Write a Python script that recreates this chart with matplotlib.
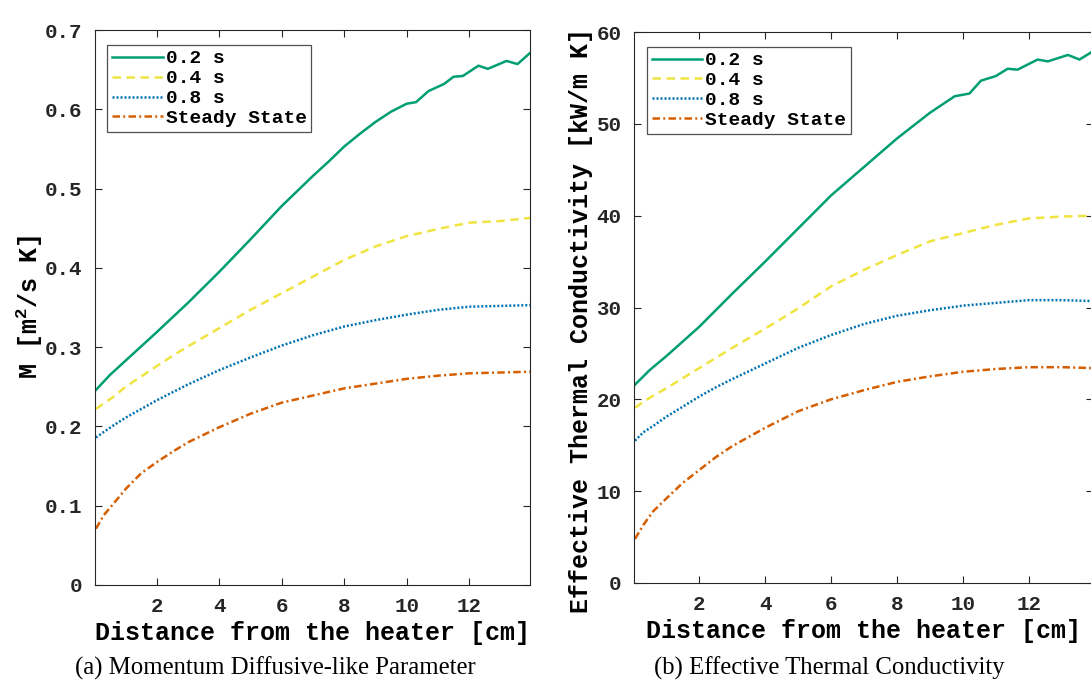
import matplotlib
matplotlib.use("Agg")
import matplotlib.pyplot as plt

# ===== DATA =====
labels = ["0.2 s", "0.4 s", "0.8 s", "Steady State"]
colors = ["#009E73", "#F0E442", "#0072B2", "#D55E00"]

# shared x grid for the smooth curves [cm]
x_smooth = [0.05, 0.3, 0.6, 1, 1.5, 2, 2.5, 3, 4, 5, 6, 7, 8, 9, 10, 11, 12, 13, 13.95]

# (a) momentum diffusive-like parameter
x_m_02 = [0.05, 0.5, 1, 2, 3, 4, 5, 6, 6.5, 7, 7.5, 8, 8.5, 9, 9.5, 10, 10.3, 10.7,
          11.2, 11.5, 11.8, 12.3, 12.6, 13.2, 13.55, 13.95]
m_02 = [0.246, 0.265, 0.283, 0.319, 0.356, 0.395, 0.436, 0.478, 0.497, 0.516, 0.534,
        0.553, 0.569, 0.584, 0.597, 0.607, 0.609, 0.623, 0.632, 0.641, 0.642, 0.655,
        0.651, 0.661, 0.657, 0.671]
m_04 = [0.222, 0.229, 0.237, 0.250, 0.263, 0.276, 0.289, 0.301, 0.324, 0.347, 0.368,
        0.389, 0.410, 0.427, 0.440, 0.449, 0.457, 0.459, 0.463]
m_08 = [0.186, 0.193, 0.201, 0.211, 0.222, 0.233, 0.243, 0.253, 0.271, 0.287, 0.302,
        0.315, 0.326, 0.334, 0.341, 0.347, 0.351, 0.352, 0.353]
m_ss = [0.071, 0.088, 0.102, 0.121, 0.141, 0.155, 0.168, 0.180, 0.199, 0.216, 0.230,
        0.239, 0.248, 0.254, 0.260, 0.264, 0.267, 0.268, 0.269]

# (b) effective thermal conductivity [kW/m K]
x_k_02 = [0.05, 0.5, 1, 2, 3, 4, 5, 6, 7, 8, 9, 9.75, 10.2, 10.55, 11, 11.36, 11.66,
          12.27, 12.58, 13.19, 13.54, 13.95]
k_02 = [21.6, 23.2, 24.7, 27.9, 31.5, 35.0, 38.6, 42.2, 45.3, 48.4, 51.2, 53.0, 53.3,
        54.7, 55.2, 56.0, 55.9, 57.0, 56.8, 57.5, 57.0, 57.9]
k_04 = [19.1, 19.7, 20.4, 21.2, 22.3, 23.4, 24.5, 25.6, 27.7, 29.9, 32.3, 34.1, 35.7,
        37.2, 38.1, 39.0, 39.7, 39.9, 40.0]
k_08 = [15.5, 16.4, 17.1, 18.1, 19.2, 20.3, 21.3, 22.2, 23.9, 25.6, 27.0, 28.2, 29.1,
        29.7, 30.2, 30.5, 30.8, 30.8, 30.7]
k_ss = [4.8, 6.3, 7.8, 9.2, 10.9, 12.3, 13.7, 14.9, 16.9, 18.7, 20.0, 21.0, 21.9,
        22.5, 23.0, 23.3, 23.5, 23.5, 23.4]

x_ticks = [2, 4, 6, 8, 10, 12]
m_ticks = [0, 0.1, 0.2, 0.3, 0.4, 0.5, 0.6, 0.7]
m_ticklabels = ["0", "0.1", "0.2", "0.3", "0.4", "0.5", "0.6", "0.7"]
k_ticks = [0, 10, 20, 30, 40, 50, 60]

# ===== STYLE =====
MONO = "Liberation Mono"
plt.rcParams["font.family"] = MONO
plt.rcParams["font.weight"] = "bold"
plt.rcParams["mathtext.fontset"] = "custom"
plt.rcParams["mathtext.rm"] = "Liberation Mono:bold"
plt.rcParams["mathtext.it"] = "Liberation Mono:bold"
plt.rcParams["mathtext.bf"] = "Liberation Mono:bold"

LW = 1.8
styles = [
    dict(linestyle="-"),
    dict(linestyle=(0, (3.4, 2.2))),
    dict(linestyle=(0, (0.8, 0.8))),
    dict(linestyle=(0, (3.0, 1.3, 0.8, 1.3))),
]
AX_COLOR = "#262626"

W, H = 1091, 680
fig = plt.figure(figsize=(W / 100, H / 100), dpi=100)

def px_axes(x0, x1, ytop, ybot):
    return fig.add_axes([x0 / W, 1 - ybot / H, (x1 - x0) / W, (ybot - ytop) / H])

ax1 = px_axes(95, 530, 30, 585)
ax2 = px_axes(634, 1093, 32, 583)

def draw(ax, xs, ys):
    for x, y, lab, col, st in zip(xs, ys, labels, colors, styles):
        ax.plot(x, y, color=col, lw=LW, label=lab, **st)

draw(ax1, [x_m_02, x_smooth, x_smooth, x_smooth], [m_02, m_04, m_08, m_ss])
draw(ax2, [x_k_02, x_smooth, x_smooth, x_smooth], [k_02, k_04, k_08, k_ss])

ax1.set_ylim(0, 0.7)
ax1.set_yticks(m_ticks)
ax1.set_yticklabels(m_ticklabels)
ax2.set_ylim(0, 60)
ax2.set_yticks(k_ticks)

for ax in (ax1, ax2):
    ax.set_xlim(0.02, 13.95)
    ax.set_xticks(x_ticks)
    ax.tick_params(direction="in", length=5, width=0.8, color=AX_COLOR,
                   top=True, right=True, labelsize=15, labelcolor=AX_COLOR, pad=9)
    for sp in ax.spines.values():
        sp.set_color(AX_COLOR)
        sp.set_linewidth(0.8)
    for t in ax.get_xticklabels() + ax.get_yticklabels():
        t.set_fontweight("bold")
    ax.set_xlabel("Distance from the heater [cm]", fontsize=18, fontweight="bold")
    leg = ax.legend(loc="upper left", bbox_to_anchor=(0.028, 0.973), fontsize=14,
                    frameon=True, fancybox=False, handlelength=2.6, handletextpad=0.15,
                    labelspacing=0.12, borderpad=0.25, borderaxespad=0)
    leg.get_frame().set_edgecolor(AX_COLOR)
    leg.get_frame().set_linewidth(0.9)

ax1.set_ylabel(r"M [m$^{2}$/s K]", fontsize=18, fontweight="bold")
ax2.set_ylabel("Effective Thermal Conductivity [kW/m K]", fontsize=18, fontweight="bold")
ax1.yaxis.set_label_coords(-0.115, 0.5)
ax2.yaxis.set_label_coords(-0.090, 0.476)
ax1.xaxis.set_label_coords(0.5, -0.065)
ax2.xaxis.set_label_coords(0.5, -0.065)

# sub-captions
fig.text(275 / W, 1 - 668 / H, "(a) Momentum Diffusive-like Parameter",
         family="Liberation Serif", fontweight="normal", fontsize=17.8,
         ha="center", va="center")
fig.text(829 / W, 1 - 668 / H, "(b) Effective Thermal Conductivity",
         family="Liberation Serif", fontweight="normal", fontsize=17.8,
         ha="center", va="center")

fig.savefig("out.png", dpi=100)
